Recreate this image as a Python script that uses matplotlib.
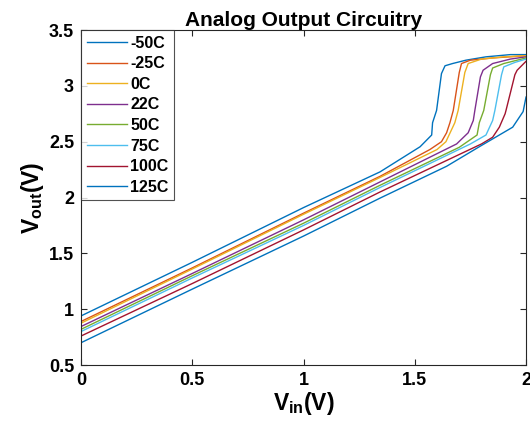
import matplotlib
matplotlib.use("Agg")
import matplotlib.pyplot as plt

plt.rcParams["font.family"] = ["Liberation Sans", "DejaVu Sans"]
plt.rcParams["font.weight"] = "bold"
plt.rcParams["mathtext.fontset"] = "custom"
plt.rcParams["mathtext.rm"] = "Liberation Sans"
plt.rcParams["mathtext.bf"] = "Liberation Sans:bold"

# ---- data (Vin, Vout) per temperature ----
labels = ["-50C", "-25C", "0C", "22C", "50C", "75C", "100C", "125C"]

vin_m50 = [0, 0.5, 1.0, 1.344, 1.524, 1.576, 1.58, 1.598, 1.62, 1.636, 1.67, 1.73, 1.82, 1.93, 2.0]
vout_m50 = [0.94, 1.42, 1.91, 2.23, 2.455, 2.56, 2.67, 2.78, 3.11, 3.18, 3.20, 3.23, 3.26, 3.28, 3.28]

vin_m25 = [0, 0.5, 1.0, 1.344, 1.568, 1.62, 1.643, 1.658, 1.673, 1.70, 1.71, 1.75, 1.85, 2.0]
vout_m25 = [0.89, 1.37, 1.86, 2.19, 2.43, 2.50, 2.58, 2.67, 2.78, 3.12, 3.20, 3.23, 3.25, 3.27]

vin_0 = [0, 0.5, 1.0, 1.344, 1.60, 1.64, 1.68, 1.695, 1.725, 1.74, 1.80, 1.90, 2.0]
vout_0 = [0.875, 1.36, 1.85, 2.18, 2.43, 2.50, 2.67, 2.78, 3.12, 3.20, 3.24, 3.26, 3.27]

vin_22 = [0, 0.5, 1.0, 1.344, 1.688, 1.74, 1.763, 1.77, 1.795, 1.807, 1.85, 1.93, 2.0]
vout_22 = [0.845, 1.32, 1.80, 2.14, 2.48, 2.58, 2.69, 2.78, 3.08, 3.14, 3.20, 3.24, 3.26]

vin_50 = [0, 0.5, 1.0, 1.344, 1.70, 1.78, 1.79, 1.81, 1.84, 1.85, 1.90, 1.96, 2.0]
vout_50 = [0.82, 1.30, 1.77, 2.11, 2.45, 2.56, 2.67, 2.78, 3.10, 3.16, 3.20, 3.23, 3.25]

vin_75 = [0, 0.5, 1.0, 1.344, 1.75, 1.82, 1.85, 1.86, 1.89, 1.90, 1.95, 2.0]
vout_75 = [0.80, 1.28, 1.75, 2.09, 2.48, 2.56, 2.69, 2.78, 3.10, 3.17, 3.21, 3.24]

vin_100 = [0, 0.5, 1.0, 1.344, 1.80, 1.85, 1.88, 1.906, 1.91, 1.95, 1.96, 2.0]
vout_100 = [0.76, 1.23, 1.71, 2.05, 2.48, 2.54, 2.63, 2.75, 2.78, 3.10, 3.14, 3.22]

vin_125 = [0, 0.5, 1.0, 1.344, 1.643, 1.79, 1.94, 1.987, 2.0]
vout_125 = [0.70, 1.18, 1.655, 1.995, 2.28, 2.455, 2.63, 2.77, 2.90]

vins = [vin_m50, vin_m25, vin_0, vin_22, vin_50, vin_75, vin_100, vin_125]
vouts = [vout_m50, vout_m25, vout_0, vout_22, vout_50, vout_75, vout_100, vout_125]

# MATLAB default colour order (wraps after 7)
colors = ["#0072BD", "#D95319", "#EDB120", "#7E2F8E", "#77AC30",
          "#4DBEEE", "#A2142F", "#0072BD"]

fig = plt.figure(figsize=(5.30, 4.29), dpi=100)
ax = fig.add_axes([0.1528, 0.149, 0.8397, 0.781])

for x, y, c, lab in zip(vins, vouts, colors, labels):
    ax.plot(x, y, color=c, lw=1.0, label=lab)

ax.set_xlim(0, 2)
ax.set_ylim(0.5, 3.5)
ax.set_xticks([0, 0.5, 1, 1.5, 2])
ax.set_xticklabels(["0", "0.5", "1", "1.5", "2"])
ax.set_yticks([0.5, 1, 1.5, 2, 2.5, 3, 3.5])
ax.set_yticklabels(["0.5", "1", "1.5", "2", "2.5", "3", "3.5"])
ax.tick_params(direction="in", length=4, width=0.8, color="#262626",
               labelsize=13, top=True, right=True, pad=5)
for s in ax.spines.values():
    s.set_color("#262626")
    s.set_linewidth(0.8)

ax.set_title("Analog Output Circuitry", fontsize=15, fontweight="bold", pad=3)
ax.set_xlabel(r"$\mathbf{V_{in}(V)}$", fontsize=16.5, labelpad=1)
ax.set_ylabel(r"$\mathbf{V_{out}(V)}$", fontsize=16.5, labelpad=2)

leg = ax.legend(loc="upper left", fontsize=11.5, frameon=True, fancybox=False,
                borderaxespad=0, handlelength=2.5, handletextpad=0.25,
                labelspacing=0.35, borderpad=0.35)
leg.get_frame().set_edgecolor("#262626")
leg.get_frame().set_linewidth(0.8)
for t in leg.get_texts():
    t.set_fontweight("bold")

fig.savefig("out.png", dpi=100)
